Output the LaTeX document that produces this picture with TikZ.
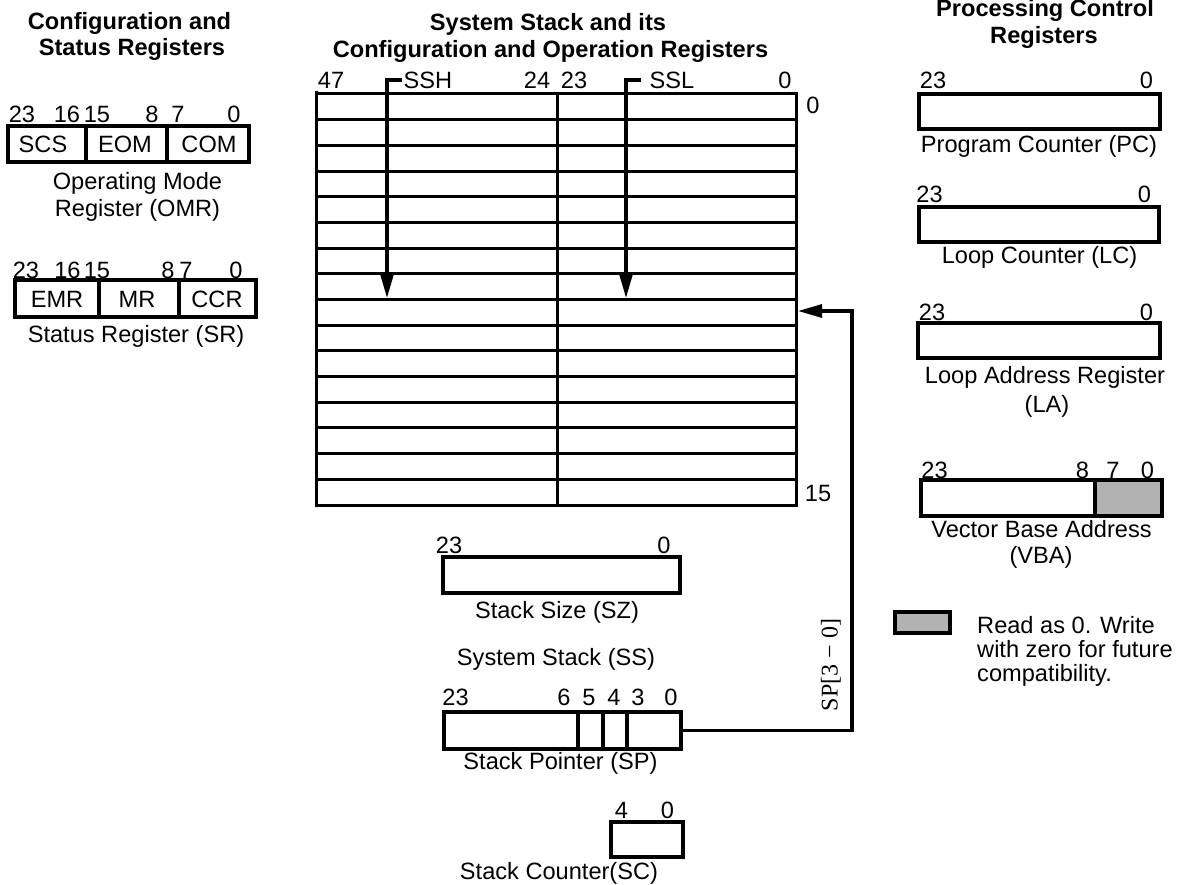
\documentclass[tikz,border=0pt]{standalone}
\usepackage{fontspec}
\setmainfont{Liberation Sans}
\newfontfamily\seriffont{Liberation Serif}
\usetikzlibrary{arrows.meta}
\begin{document}
\begin{tikzpicture}[x=1pt,y=-1pt,
  font=\fontsize{23.6}{26}\selectfont,
  lbl/.style={inner sep=0pt, text height=17pt, text depth=0pt},
  ttl/.style={lbl, font=\fontsize{23.6}{26}\selectfont\bfseries},
  reg/.style={draw, line width=3.3pt, inner sep=0pt, rectangle},
  ln/.style={line width=3.2pt},
  tbl/.style={line width=3pt},
  tip/.style={-{Triangle[length=24pt,width=13pt]}},
]
\useasboundingbox (0,0) rectangle (1177,885);

% ---------- Left column ----------
\node[ttl] (t1a) at (129.5,21) {Configuration and};
\node[ttl] (t1b) at (132,47.5) {Status Registers};

\node[lbl] (o23) at (22,114) {23};
\node[lbl] (o16) at (67,114) {16};
\node[lbl] (o15) at (97,114) {15};
\node[lbl] (o8) at (152,114) {8};
\node[lbl] (o7) at (178,114) {7};
\node[lbl] (o0) at (234,114) {0};
\node[reg, minimum width=241pt, minimum height=36pt] (omr) at (128.5,144) {};
\draw[ln] (86,0 |- omr.north) -- (86,0 |- omr.south);
\draw[ln] (167,0 |- omr.north) -- (167,0 |- omr.south);
\node[lbl] (scs) at (43,144) {SCS};
\node[lbl] (eom) at (125,144) {EOM};
\node[lbl] (com) at (209,144) {COM};
\node[lbl] (omrc1) at (137.5,181.5) {Operating Mode};
\node[lbl] (omrc2) at (137.5,208.5) {Register (OMR)};

\node[lbl] (s23) at (26,270) {23};
\node[lbl] (s16) at (67.5,270) {16};
\node[lbl] (s15) at (97,270) {15};
\node[lbl] (s8) at (168,270) {8};
\node[lbl] (s7) at (186,270) {7};
\node[lbl] (s0) at (236,270) {0};
\node[reg, minimum width=241pt, minimum height=37pt] (sr) at (135.5,298.5) {};
\draw[ln] (99,0 |- sr.north) -- (99,0 |- sr.south);
\draw[ln] (179,0 |- sr.north) -- (179,0 |- sr.south);
\node[lbl] (emr) at (57,299) {EMR};
\node[lbl] (mr) at (137,299) {MR};
\node[lbl] (ccr) at (217,299) {CCR};
\node[lbl] (src) at (136,334) {Status Register (SR)};

% ---------- Middle: system stack ----------
\node[ttl] (t2a) at (548,22.5) {System Stack and its};
\node[ttl] (t2b) at (550.5,49.5) {Configuration and Operation Registers};

\node[lbl] (h47) at (331,80) {47};
\node[lbl] (ssh) at (428,80) {SSH};
\node[lbl] (h24) at (537,80) {24};
\node[lbl] (h23) at (574,80) {23};
\node[lbl] (ssl) at (672,80) {SSL};
\node[lbl] (h0) at (785,80) {0};

\draw[tbl] (316,94) rectangle (796,505);
\foreach \i in {1,...,15}{
  \pgfmathsetmacro\yy{94+\i*25.6875}
  \draw[tbl] (316,\yy) -- (796,\yy);
}
\draw[tbl] (316,91) -- (316,94);
\draw[tbl] (557,92) -- (557,505);

\node[lbl] (r0) at (813,105) {0};
\node[lbl] (r15) at (818,493) {15};

\coordinate (sshend) at (387,298);
\coordinate (sslend) at (626,298);
\draw[ln,tip] ([xshift=-2pt]ssh.west) -| (sshend);
\draw[ln,tip] ([xshift=-9pt]ssl.west) -| (sslend);

% Stack size
\node[lbl] (z23) at (449,544.5) {23};
\node[lbl] (z0) at (664,544.5) {0};
\node[reg, minimum width=237pt, minimum height=36pt] (sz) at (561.5,575) {};
\node[lbl] (szc) at (557,609.5) {Stack Size (SZ)};

\node[lbl] (ssc) at (556,656.5) {System Stack (SS)};

% Stack pointer
\node[lbl] (p23) at (455.5,696.5) {23};
\node[lbl] (p6) at (564,696.5) {6};
\node[lbl] (p5) at (589,696.5) {5};
\node[lbl] (p4) at (614,696.5) {4};
\node[lbl] (p3) at (638,696.5) {3};
\node[lbl] (p0) at (671,696.5) {0};
\node[reg, minimum width=237pt, minimum height=37pt] (sp) at (562.5,730.5) {};
\draw[ln] (578,0 |- sp.north) -- (578,0 |- sp.south);
\draw[ln] (603,0 |- sp.north) -- (603,0 |- sp.south);
\draw[ln] (627,0 |- sp.north) -- (627,0 |- sp.south);
\node[lbl] (spc) at (560.5,761) {Stack Pointer (SP)};

% Stack counter
\node[lbl] (c4) at (621.5,809.5) {4};
\node[lbl] (c0) at (667.5,809.5) {0};
\node[reg, minimum width=72pt, minimum height=35pt] (sc) at (647,839.5) {};
\node[lbl] (scc) at (559,871) {Stack Counter(SC)};

% SP connector
\coordinate (row9) at (798,311);
\coordinate (bend) at (852,311);
\draw[ln,tip] (sp.east) -| (bend) -- (row9);
\node[inner sep=0pt, rotate=90, font=\seriffont\fontsize{24}{26}\selectfont] (splbl) at (831,665) {SP[3 − 0]};

% ---------- Right column ----------
\node[ttl] (t3a) at (1045,8.5) {Processing Control};
\node[ttl] (t3b) at (1044,35.5) {Registers};

\node[lbl] (pc23) at (933,80.5) {23};
\node[lbl] (pc0) at (1146.5,80.5) {0};
\node[reg, minimum width=241pt, minimum height=35pt] (pc) at (1039.5,111.5) {};
\node[lbl] (pcc) at (1039,144.5) {Program Counter (PC)};

\node[lbl] (lc23) at (929.5,194.5) {23};
\node[lbl] (lc0) at (1144.5,194.5) {0};
\node[reg, minimum width=240pt, minimum height=35pt] (lc) at (1039,224.5) {};
\node[lbl] (lcc) at (1039.5,255.5) {Loop Counter (LC)};

\node[lbl] (la23) at (932,312) {23};
\node[lbl] (la0) at (1146.5,312) {0};
\node[reg, minimum width=242pt, minimum height=35pt] (la) at (1039,340.5) {};
\node[lbl] (lac1) at (1045,375) {Loop Address Register};
\node[lbl] (lac2) at (1047,403.5) {(LA)};

\node[lbl] (v23) at (934.5,470) {23};
\node[lbl] (v8) at (1082.5,470) {8};
\node[lbl] (v7) at (1113,470) {7};
\node[lbl] (v0) at (1147.5,470) {0};
\fill[gray!60] (1095,480) rectangle (1162,516);
\node[reg, minimum width=241pt, minimum height=36pt] (vba) at (1041.5,498) {};
\draw[ln] (1095,0 |- vba.north) -- (1095,0 |- vba.south);
\node[lbl] (vbac1) at (1041.5,529) {Vector Base Address};
\node[lbl] (vbac2) at (1041,555) {(VBA)};

% Legend
\node[reg, fill=gray!60, minimum width=55pt, minimum height=21pt] (leg) at (922.5,622.5) {};
\node[lbl, anchor=west] (leg1) at (977,624.5) {Read as 0. Write};
\node[lbl, anchor=west] (leg2) at (977,648.5) {with zero for future};
\node[lbl, anchor=west] (leg3) at (977,673) {compatibility.};
\end{tikzpicture}
\end{document}
